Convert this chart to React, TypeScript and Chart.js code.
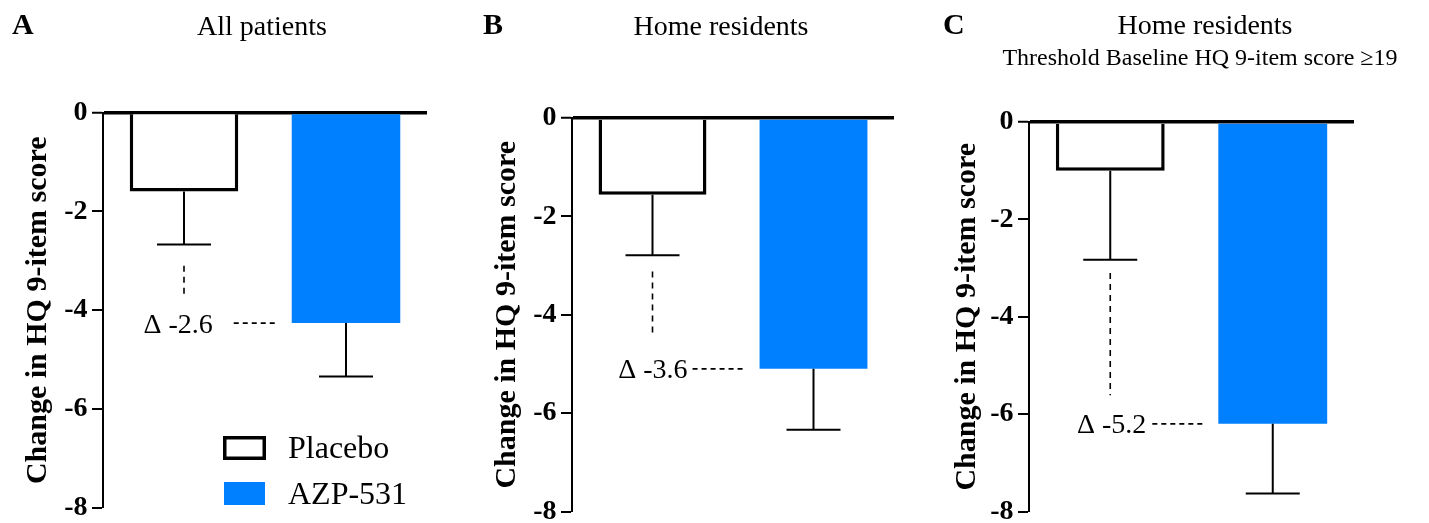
import React, { useEffect, useRef } from "react";
import { Chart, registerables } from "chart.js";

Chart.register(...registerables);

// ---------- data ----------
const panelLetters = ["A", "B", "C"];
const panelTitles = ["All patients", "Home residents", "Home residents"];
const panelSubtitles = ["", "", "Threshold Baseline HQ 9-item score \u226519"];
const treatments = ["Placebo", "AZP-531"];
const placeboMean = [-1.6, -1.56, -1.0];
const placeboSEM = [1.07, 1.23, 1.83];
const azpMean = [-4.26, -5.1, -6.2];
const azpSEM = [1.08, 1.24, 1.43];
const deltaLabels = ["-2.6", "-3.6", "-5.2"];
const deltaLineTop = [-3.1, -3.12, -3.1];
const deltaLineBottom = [-3.7, -4.42, -5.61];
const yMin = -8;
const yMax = 0;
const yStep = 2;
const yTitle = "Change in HQ 9-item score";

// ---------- styles / layout ----------
const FONT = "'Liberation Serif', 'Times New Roman', serif";
const PLACEBO_FILL = "#ffffff";
const PLACEBO_BORDER = "#000000";
const AZP_FILL = "#0080ff";

const panels = [
  { left: 0, width: 470, axisW: 103, top: 112.5, bottom: 15, right: 43, titlePad: 23,
    letterX: 12, letterY: 33.5, titleX: 262, titleY: 34.5, subY: 65, dashLen: 44, textGap: 21 },
  { left: 470, width: 470, axisW: 102, top: 118, bottom: 9, right: 46, titlePad: 22,
    letterX: 13, letterY: 33.5, titleX: 251, titleY: 34.5, subY: 65, dashLen: 53, textGap: 5 },
  { left: 940, width: 489, axisW: 89, top: 122, bottom: 8, right: 75, titlePad: 12,
    letterX: 3, letterY: 33.5, titleX: 265, titleY: 34, subY: 65, dashLen: 52, textGap: 6 },
];

function makePlugin(i: number) {
  const p = panels[i];
  return {
    id: "panelDecor" + i,
    afterDatasetsDraw(chart: any) {
      const ctx = chart.ctx as CanvasRenderingContext2D;
      const ys = chart.scales.y;
      const meta = chart.getDatasetMeta(0);
      const means = [placeboMean[i], azpMean[i]];
      const sems = [placeboSEM[i], azpSEM[i]];
      ctx.save();
      // error bars
      ctx.strokeStyle = "#000";
      ctx.lineWidth = 2;
      meta.data.forEach((bar: any, k: number) => {
        const { x } = bar.getProps(["x"], true);
        const y0 = ys.getPixelForValue(means[k]);
        const y1 = ys.getPixelForValue(means[k] - sems[k]);
        ctx.beginPath();
        ctx.moveTo(x, y0);
        ctx.lineTo(x, y1);
        ctx.moveTo(x - 27, y1);
        ctx.lineTo(x + 27, y1);
        ctx.stroke();
      });
      // delta dashed vertical line under placebo
      const px = meta.data[0].getProps(["x"], true).x;
      ctx.lineWidth = 1.6;
      ctx.setLineDash([6, 5]);
      ctx.beginPath();
      ctx.moveTo(px, ys.getPixelForValue(deltaLineTop[i]));
      ctx.lineTo(px, ys.getPixelForValue(deltaLineBottom[i]));
      ctx.stroke();
      // horizontal dashed at AZP mean
      const az = meta.data[1].getProps(["x", "width"], true);
      const barLeft = az.x - az.width / 2;
      const yy = ys.getPixelForValue(azpMean[i]);
      const x2 = barLeft - 14;
      const x1 = x2 - p.dashLen;
      ctx.setLineDash([5, 4]);
      ctx.beginPath();
      ctx.moveTo(x1, yy);
      ctx.lineTo(x2, yy);
      ctx.stroke();
      ctx.setLineDash([]);
      ctx.fillStyle = "#000";
      ctx.font = "28px " + FONT;
      ctx.textAlign = "right";
      ctx.textBaseline = "alphabetic";
      ctx.fillText("\u0394 " + deltaLabels[i], x1 - p.textGap, yy + 9.5);
      ctx.restore();
    },
    afterDraw(chart: any) {
      const ctx = chart.ctx as CanvasRenderingContext2D;
      ctx.save();
      ctx.fillStyle = "#000";
      ctx.textBaseline = "alphabetic";
      ctx.textAlign = "left";
      ctx.font = "bold 30px " + FONT;
      ctx.fillText(panelLetters[i], p.letterX, p.letterY);
      ctx.textAlign = "center";
      ctx.font = "28px " + FONT;
      ctx.fillText(panelTitles[i], p.titleX, p.titleY);
      if (panelSubtitles[i]) {
        ctx.font = "24px " + FONT;
        ctx.fillText(panelSubtitles[i], p.titleX - 5, p.subY);
      }
      if (i === 0) {
        // legend
        ctx.fillStyle = PLACEBO_FILL;
        ctx.fillRect(223, 436, 43, 24);
        ctx.strokeStyle = PLACEBO_BORDER;
        ctx.lineWidth = 3.5;
        ctx.strokeRect(224.75, 437.75, 39.5, 20.5);
        ctx.fillStyle = AZP_FILL;
        ctx.fillRect(224, 482, 41, 23);
        ctx.fillStyle = "#000";
        ctx.textAlign = "left";
        ctx.font = "32px " + FONT;
        ctx.fillText(treatments[0], 288, 458);
        ctx.fillText(treatments[1], 288, 504);
      }
      ctx.restore();
    },
  };
}

function Panel({ i }: { i: number }) {
  const ref = useRef<HTMLCanvasElement | null>(null);
  const p = panels[i];
  useEffect(() => {
    if (!ref.current) return;
    const chart = new Chart(ref.current, {
      type: "bar",
      data: {
        labels: treatments,
        datasets: [
          {
            data: [placeboMean[i], azpMean[i]],
            backgroundColor: [PLACEBO_FILL, AZP_FILL],
            borderColor: [PLACEBO_BORDER, AZP_FILL],
            borderWidth: [3.5, 0],
            borderSkipped: "start",
            barPercentage: 0.67,
            categoryPercentage: 1,
          },
        ],
      },
      options: {
        responsive: false,
        animation: false,
        events: [],
        layout: { padding: { top: p.top, bottom: p.bottom, left: 0, right: p.right } },
        plugins: { legend: { display: false }, tooltip: { enabled: false }, title: { display: false } },
        scales: {
          x: { display: false },
          y: {
            min: yMin,
            max: yMax,
            z: 1,
            afterFit: (s: any) => {
              s.width = p.axisW;
            },
            ticks: {
              stepSize: yStep,
              color: "#000",
              padding: 4.5,
              font: { family: FONT, size: 28, weight: "bold", lineHeight: 0.5 },
            },
            grid: {
              drawOnChartArea: true,
              drawTicks: true,
              tickLength: 11,
              tickWidth: 2,
              tickColor: "#000",
              color: (c: any) => (c.tick && c.tick.value === 0 ? "#000" : "rgba(0,0,0,0)"),
              lineWidth: (c: any) => (c.tick && c.tick.value === 0 ? 3.5 : 0),
            },
            border: { display: true, color: "#000", width: 2 },
            title: {
              display: true,
              text: yTitle,
              color: "#000",
              padding: { top: p.titlePad, bottom: 0 },
              font: { family: FONT, size: 30, weight: "bold", lineHeight: 1 },
            },
          },
        },
      },
      plugins: [makePlugin(i)],
    });
    return () => chart.destroy();
  }, [i]);
  return (
    <canvas
      ref={ref}
      width={p.width}
      height={523}
      style={{ position: "absolute", left: p.left, top: 0, width: p.width, height: 523 }}
    />
  );
}

export default function App() {
  return (
    <div style={{ position: "absolute", left: 0, top: 0, width: 1429, height: 523, background: "#fff", overflow: "hidden" }}>
      {panels.map((_, i) => (
        <Panel key={i} i={i} />
      ))}
    </div>
  );
}
